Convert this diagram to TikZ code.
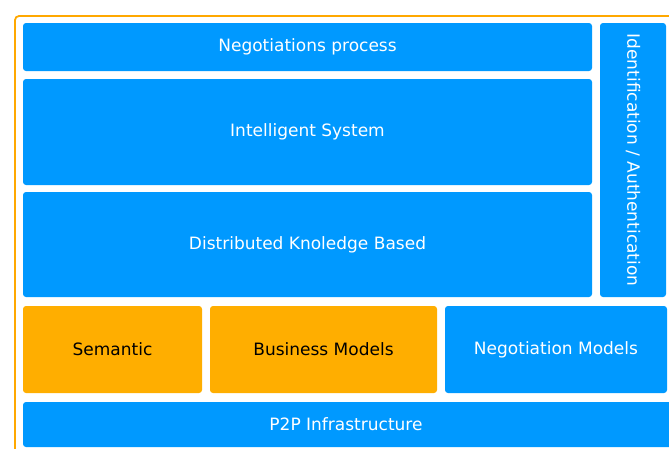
\documentclass[tikz,border=0pt]{standalone}
\usepackage{fontspec}
\setmainfont{DejaVu Sans}
\definecolor{boxblue}{HTML}{0099FF}
\definecolor{boxorange}{HTML}{FFAE00}
\definecolor{frameorange}{HTML}{FFA800}
\begin{document}
\begin{tikzpicture}[x=1pt,y=-1pt,
  layer/.style={anchor=north west, inner sep=0pt, outer sep=0pt, rounded corners=3pt,
    font=\fontsize{17}{20}\selectfont, align=center},
  bluebox/.style={layer, fill=boxblue, text=white},
  orangebox/.style={layer, fill=boxorange, text=black},
  frame/.style={draw=frameorange, line width=1.8pt, rounded corners=4pt}]
\useasboundingbox (0,0) rectangle (669,448);
\draw[frame] (15,16) rectangle (700,480);
\node[bluebox, minimum width=569pt, minimum height=48pt] (np) at (23,23) {Negotiations process};
\node[bluebox, minimum width=569pt, minimum height=106pt] (is) at (23,79) {Intelligent System};
\node[bluebox, minimum width=569pt, minimum height=105pt] (dk) at (23,192) {Distributed Knoledge Based};
\node[bluebox, minimum width=66pt, minimum height=274pt] (id) at (600,23) {};
\node[rotate=-90, text=white, font=\fontsize{17}{20}\selectfont] (idt) at (id.center) {Identification / Authentication};
\node[orangebox, minimum width=179pt, minimum height=87pt] (sem) at (23,306) {Semantic};
\node[orangebox, minimum width=227pt, minimum height=87pt] (bm) at (210,306) {Business Models};
\node[bluebox, minimum width=222pt, minimum height=87pt] (nm) at (445,306) {Negotiation Models};
\node[bluebox, minimum width=660pt, minimum height=45pt] (p2p) at (23,402) {};
\node[text=white, font=\fontsize{17}{20}\selectfont] (p2pt) at (346,424) {P2P Infrastructure};
\end{tikzpicture}
\end{document}
